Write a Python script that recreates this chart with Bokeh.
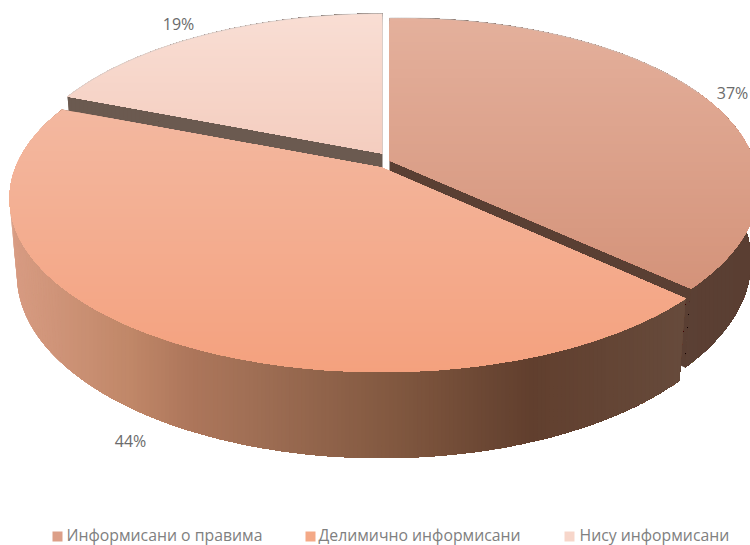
import math
from bokeh.plotting import figure
from bokeh.embed import file_html
from bokeh.resources import INLINE
from bokeh.core.properties import value

# --- data
categories = ["Информисани о правима", "Делимично информисани", "Нису информисани"]
shares = [37, 44, 19]
share_labels = ["37%", "44%", "19%"]

# --- styling and scene geometry
CENTER = (383.0, 160.0)
SHIFT = [(6, 0), (-2, 7), (-1, -7)]
RADII = [363.0, 366.0, 361.0]
MINOR = [168.0, 168.0, 165.0]
TILT = [4.0, 0.0, 0.0]
D = 5.6
DEPTH, KX, KY = 74.0, 0.98, 1.054
DEPTHS = [72.0, 75.0, 76.0]
TOP_STOPS = [
    [(17, "#e4b09c"), (287, "#d4937a")],
    [(110, "#f3b8a0"), (372, "#f4a17e")],
    [(13, "#f9ded4"), (153, "#f4cdbf")],
]
WALL_STOPS = [
    [(680, "#5b4034"), (750, "#5a3e32")],
    [(10, "#d89c83"), (130, "#c08768"), (190, "#ad765b"), (250, "#a06f55"), (400, "#80573f"), (530, "#613f2e"), (680, "#664a3b")],
    [(0, "#6b5a50"), (750, "#6b5a50")],
]
FACE_COLORS = ["#5a3f33", "#664a3b", "#6b5a50"]
SWATCH = ["#dc9f88", "#f4a987", "#f7d6ca"]
LEGEND_COLOR = "#808080"
LABEL_COLOR = "#6b6b6b"
LABEL_POS = [(732, 92), (130, 440), (178, 23)]
LEGEND_SWATCH_X = [52, 305, 564]
LEGEND_TEXT_X = [66, 318, 579]


def lerp_color(stops, t):
    if t <= stops[0][0]:
        return stops[0][1]
    for (t0, c0), (t1, c1) in zip(stops, stops[1:]):
        if t <= t1:
            f = (t - t0) / (t1 - t0)
            a = [int(c0[i:i + 2], 16) for i in (1, 3, 5)]
            b = [int(c1[i:i + 2], 16) for i in (1, 3, 5)]
            return "#%02x%02x%02x" % tuple(round(u + (v - u) * f) for u, v in zip(a, b))
    return stops[-1][1]


def rim(theta, apex, radius, minor, tilt):
    X, Y = math.sin(theta), -math.cos(theta)
    s = D / (D - Y)
    return apex[0] + radius * X * s, apex[1] + minor * Y * s - tilt * X


def lower(pt, apex, depth):
    return apex[0] + (pt[0] - apex[0]) * KX, apex[1] + (pt[1] - apex[1]) * KY + depth


def clip(poly, axis, limit):
    out = []
    for i, p in enumerate(poly):
        q = poly[(i + 1) % len(poly)]
        pin, qin = p[axis] >= limit, q[axis] >= limit
        if pin:
            out.append(p)
        if pin != qin:
            f = (limit - p[axis]) / (q[axis] - p[axis])
            out.append((p[0] + (q[0] - p[0]) * f, p[1] + (q[1] - p[1]) * f))
    return out


xs, ys, cols = [], [], []


def add(poly, color):
    xs.append([p[0] for p in poly])
    ys.append([p[1] for p in poly])
    cols.append(color)


def graded(poly, axis, stops, step):
    lo = min(p[axis] for p in poly)
    hi = max(p[axis] for p in poly)
    v = lo
    while v < hi:
        part = clip(poly, axis, v) if v > lo else poly
        if len(part) >= 3:
            add(part, lerp_color(stops, v + step / 2))
        v += step


total = sum(shares)
spans, acc = [], 0.0
for v in shares:
    spans.append((acc / total * 2 * math.pi, (acc + v) / total * 2 * math.pi))
    acc += v
apexes = [(CENTER[0] + s[0], CENTER[1] + s[1]) for s in SHIFT]
rims = []
for (t0, t1), ap, rad, mnr, tlt in zip(spans, apexes, RADII, MINOR, TILT):
    n = max(8, int((t1 - t0) * 60))
    rims.append([rim(t0 + (t1 - t0) * i / n, ap, rad, mnr, tlt) for i in range(n + 1)])

# back-to-front: radial faces and outer walls, then the top surfaces
for i in (2, 0, 1):
    ap, r, dp = apexes[i], rims[i], DEPTHS[i]
    add([ap, r[0], lower(r[0], ap, dp), lower(ap, ap, dp)], FACE_COLORS[i])
    add([ap, r[-1], lower(r[-1], ap, dp), lower(ap, ap, dp)], FACE_COLORS[i])
    wall = r + [lower(q, ap, dp) for q in reversed(r)]
    graded(wall, 0, WALL_STOPS[i], 4)
    # swept quads fill the silhouette where the upper and lower rims cross
    for a, b in zip(r, r[1:]):
        if a[0] < 60:
            graded([a, b, lower(b, ap, dp), lower(a, ap, dp)], 0, WALL_STOPS[i], 4)
for i in (2, 0, 1):
    graded([apexes[i]] + rims[i], 1, TOP_STOPS[i], 3)

p = figure(width=750, height=545, x_range=(0, 750), y_range=(545, 0),
           output_backend="svg", toolbar_location=None, min_border=0,
           x_axis_type=None, y_axis_type=None, outline_line_color=None,
           background_fill_color="#ffffff", border_fill_color="#ffffff")
p.grid.visible = False
p.patches(xs, ys, fill_color=cols, line_color=None)

# faint grey rim edge on the two back slices
edge_a = rims[0][:len(rims[0]) // 2]
edge_c = rims[2] + [apexes[2]]
p.multi_line([[q[0] for q in edge_a], [q[0] for q in edge_c]],
             [[q[1] for q in edge_a], [q[1] for q in edge_c]],
             line_color="#c4c4c4", line_width=0.8, line_alpha=0.7)

p.text([q[0] for q in LABEL_POS], [q[1] for q in LABEL_POS], text=share_labels,
       text_font=value("Open Sans"), text_font_size="16px", text_color=LABEL_COLOR,
       text_align="center", text_baseline="middle")

p.quad(left=LEGEND_SWATCH_X, right=[x + 10 for x in LEGEND_SWATCH_X],
       top=[531] * 3, bottom=[541] * 3, fill_color=SWATCH, line_color=None)
p.text(LEGEND_TEXT_X, [534.5] * 3, text=categories,
       text_font=value("Open Sans"), text_font_size="15.8px", text_color=LEGEND_COLOR,
       text_align="left", text_baseline="middle")

open("out.html", "w").write(file_html(p, INLINE))
